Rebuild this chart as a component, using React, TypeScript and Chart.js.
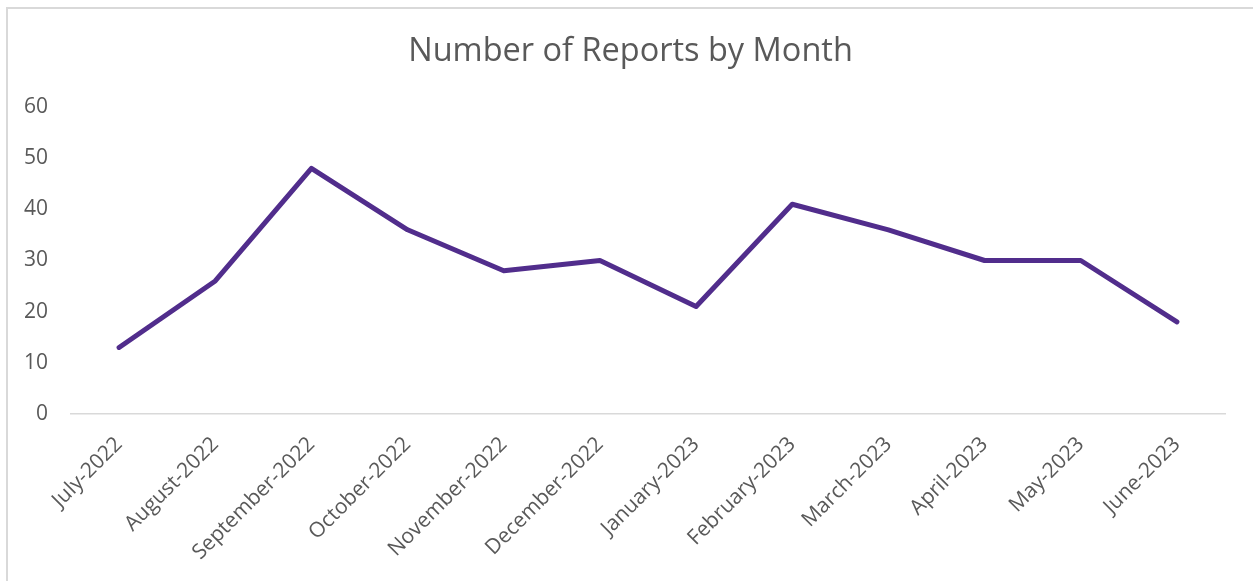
import React, { useEffect, useRef } from "react";
import { Chart, registerables } from "chart.js";

Chart.register(...registerables);

const months = [
  "July-2022",
  "August-2022",
  "September-2022",
  "October-2022",
  "November-2022",
  "December-2022",
  "January-2023",
  "February-2023",
  "March-2023",
  "April-2023",
  "May-2023",
  "June-2023",
];
const reports = [13, 26, 48, 36, 28, 30, 21, 41, 36, 30, 30, 18];
const yTicks = [0, 10, 20, 30, 40, 50, 60];

const TEXT = "#595959";
const FONT = "'Open Sans', 'Liberation Sans', sans-serif";

export default function App() {
  const ref = useRef<HTMLCanvasElement | null>(null);

  useEffect(() => {
    if (!ref.current) return;
    const chart = new Chart(ref.current, {
      type: "line",
      data: {
        labels: months,
        datasets: [
          {
            label: "Reports",
            data: reports,
            borderColor: "#512d8c",
            backgroundColor: "#512d8c",
            borderWidth: 5,
            pointRadius: 0,
            pointHoverRadius: 0,
            tension: 0,
            borderJoinStyle: "round",
            borderCapStyle: "round",
          },
        ],
      },
      options: {
        responsive: false,
        animation: false,
        layout: { padding: 0 },
        plugins: {
          legend: { display: false },
          tooltip: { enabled: false },
          title: {
            display: true,
            text: "Number of Reports by Month",
            color: TEXT,
            font: { family: FONT, size: 32.5, weight: "normal" },
            padding: { top: 23, bottom: 36 },
          },
        },
        scales: {
          x: {
            offset: true,
            grid: { display: false, drawTicks: false },
            border: { display: true, color: "#d9d9d9", width: 1.5 },
            ticks: {
              color: TEXT,
              font: { family: FONT, size: 21 },
              minRotation: 45,
              maxRotation: 45,
              padding: 18,
              autoSkip: false,
            },
            afterFit: (s: any) => {
              s.height = 167;
            },
          },
          y: {
            min: 0,
            max: 60,
            grid: { display: false, drawTicks: false },
            border: { display: false },
            afterBuildTicks: (s: any) => {
              s.ticks = yTicks.map((v) => ({ value: v }));
            },
            ticks: {
              color: TEXT,
              font: { family: FONT, size: 21 },
              padding: 23,
            },
            afterFit: (s: any) => {
              s.width = 63;
            },
          },
          spacer: {
            type: "linear",
            position: "right",
            display: true,
            grid: { display: false, drawTicks: false },
            border: { display: false },
            ticks: { display: false },
            afterFit: (s: any) => {
              s.width = 28;
            },
          },
        },
      },
    });
    return () => chart.destroy();
  }, []);

  return (
    <div
      style={{
        position: "absolute",
        left: 6,
        top: 7,
        width: 1300,
        height: 700,
        border: "2px solid #d9d9d9",
        boxSizing: "border-box",
        background: "#fff",
      }}
    >
      <canvas
        ref={ref}
        width={1245}
        height={572}
        style={{ position: "absolute", left: 0, top: 0, width: 1245, height: 572 }}
      />
    </div>
  );
}
